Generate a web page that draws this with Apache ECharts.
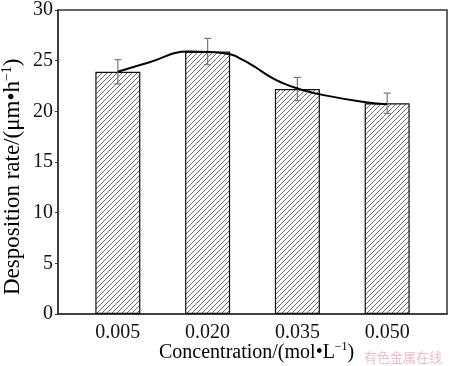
<!DOCTYPE html>
<html><head><meta charset="utf-8">
<script src="https://cdn.jsdelivr.net/npm/echarts@6/dist/echarts.min.js"></script>
<style>html,body{margin:0;padding:0;background:#fff}#c{width:450px;height:366px}</style>
</head><body><div id="c"></div>
<script>
var categories = [0.005, 0.020, 0.035, 0.050];
var rates = [23.9, 25.9, 22.2, 20.8];
var errors = [1.2, 1.3, 1.15, 1.0];
var fitX = [0.005, 0.0103, 0.0169, 0.0203, 0.0239, 0.0258, 0.0280, 0.0302, 0.0325, 0.0353, 0.0394, 0.0464, 0.050];
var fitY = [23.9, 24.85, 25.9, 25.85, 25.6, 25.1, 24.35, 23.5, 22.8, 22.2, 21.6, 20.9, 20.7];
var yTicks = [0, 5, 10, 15, 20, 25, 30];

var FONT = '"Liberation Serif", "Times New Roman", serif';

function hatch() {
  var s = 5, c = document.createElement('canvas');
  c.width = s; c.height = s;
  var g = c.getContext('2d');
  g.fillStyle = '#fff'; g.fillRect(0, 0, s, s);
  g.strokeStyle = '#555'; g.lineWidth = 0.85;
  g.beginPath();
  g.moveTo(-1, s + 1); g.lineTo(s + 1, -1);
  g.moveTo(-1, 1); g.lineTo(1, -1);
  g.moveTo(s - 1, s + 1); g.lineTo(s + 1, s - 1);
  g.stroke();
  return c;
}

function richName(size, lh) {
  return {
    a: { fontSize: size, fontFamily: FONT, color: '#111', lineHeight: lh },
    sup: { fontSize: Math.round(size * 0.62), fontFamily: FONT, color: '#111', lineHeight: Math.round(size * 0.55), verticalAlign: 'top' }
  };
}

var barData = categories.map(function (c, i) { return [c, rates[i]]; });
var errData = categories.map(function (c, i) { return [c, rates[i] - errors[i], rates[i] + errors[i]]; });
var fitData = fitX.map(function (x, i) { return [x, fitY[i]]; });

var chart = echarts.init(document.getElementById('c'), null, { renderer: 'canvas' });
chart.setOption({
  animation: false,
  backgroundColor: '#fff',
  grid: { left: 58, right: 3, top: 4, bottom: 52, show: true, borderColor: '#333', borderWidth: 1.5 },
  xAxis: {
    type: 'value', min: -0.005, max: 0.06,
    axisLine: { show: true, onZero: false, lineStyle: { color: '#333', width: 1.5 } },
    axisTick: { show: false },
    splitLine: { show: false },
    axisLabel: {
      customValues: categories,
      formatter: function (v) { return v.toFixed(3); },
      fontFamily: FONT, fontSize: 20, color: '#111', margin: 9
    }
  },
  yAxis: {
    type: 'value', min: 0, max: 30, interval: 5,
    axisLine: { show: true, onZero: false, lineStyle: { color: '#333', width: 1.5 } },
    axisTick: { show: true, inside: false, length: 3, lineStyle: { color: '#333' } },
    splitLine: { show: false },
    axisLabel: {
      customValues: yTicks,
      fontFamily: FONT, fontSize: 20, color: '#111', margin: 5
    }
  },
  graphic: [
    {
      type: 'text', left: 159, top: 341,
      style: {
        text: '{a|Concentration/(mol•L}{sup|−1}{a|)}',
        rich: richName(20, 24)
      }
    },
    {
      type: 'text', x: 0, y: 295, rotation: Math.PI / 2,
      style: {
        text: '{a|Desposition rate/(μm•h}{sup|−1}{a|)}',
        rich: richName(23, 26)
      }
    },
    {
      type: 'text', left: 364, top: 351,
      style: { text: '有色金属在线', font: '13px "Noto Sans CJK SC"', fill: 'rgba(225,130,145,0.55)' }
    }
  ],
  series: [
    {
      type: 'bar', data: barData, barWidth: 45,
      itemStyle: { color: { image: hatch(), repeat: 'repeat' }, borderColor: '#111', borderWidth: 1.2 },
      z: 2
    },
    {
      type: 'custom', data: errData, z: 3,
      renderItem: function (params, api) {
        var x = api.value(0);
        var lo = api.coord([x, api.value(1)]);
        var hi = api.coord([x, api.value(2)]);
        var w = 3.5;
        var st = { stroke: '#777', lineWidth: 1.2 };
        return {
          type: 'group', children: [
            { type: 'line', shape: { x1: hi[0], y1: hi[1], x2: lo[0], y2: lo[1] }, style: st },
            { type: 'line', shape: { x1: hi[0] - w, y1: hi[1], x2: hi[0] + w, y2: hi[1] }, style: st },
            { type: 'line', shape: { x1: lo[0] - w, y1: lo[1], x2: lo[0] + w, y2: lo[1] }, style: st }
          ]
        };
      }
    },
    {
      type: 'line', data: fitData, smooth: 0.5, showSymbol: false, z: 4,
      lineStyle: { color: '#000', width: 2 }
    }
  ]
});
</script></body></html>
